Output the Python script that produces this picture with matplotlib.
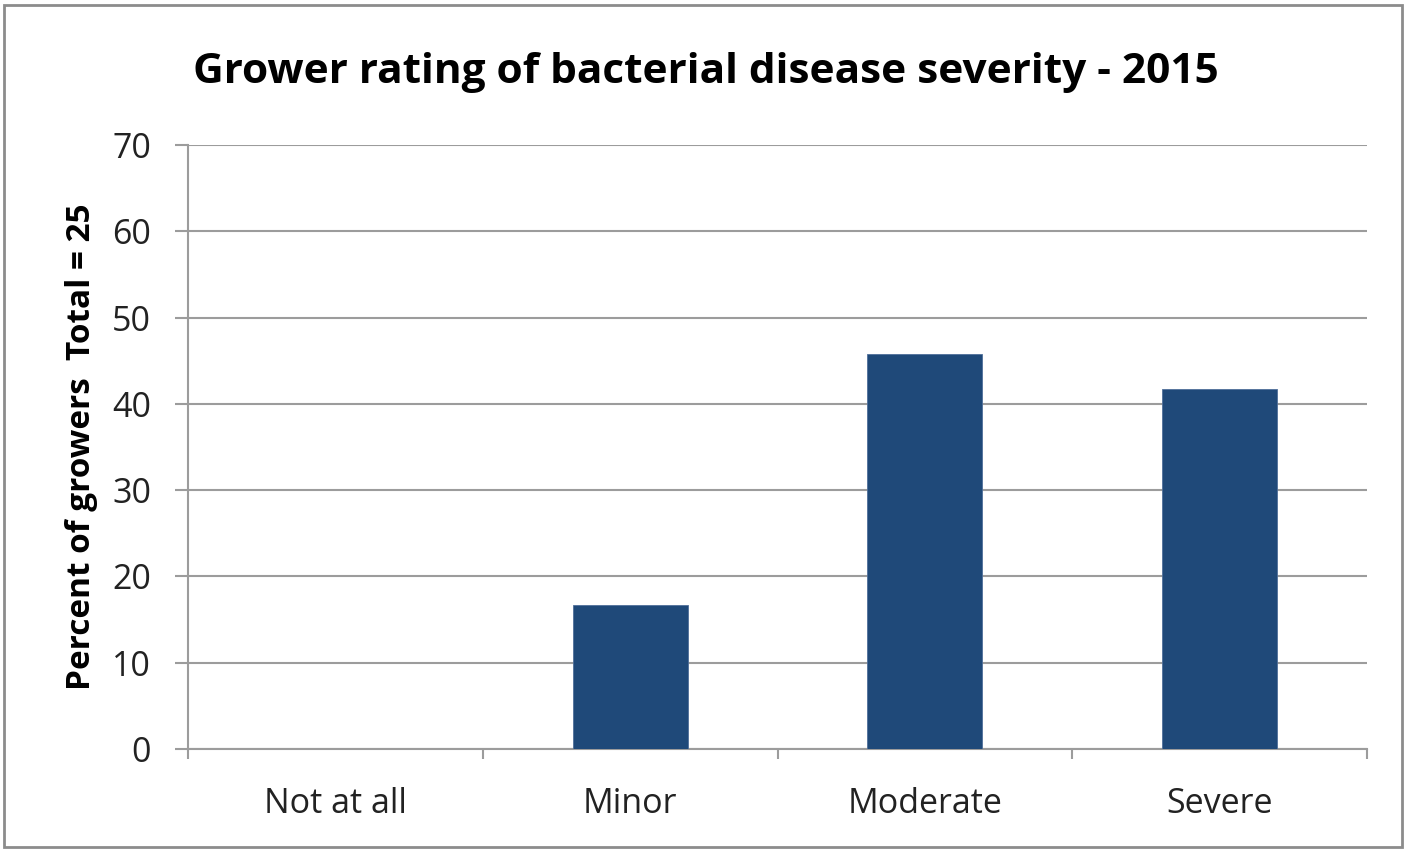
import matplotlib.pyplot as plt
from matplotlib.patches import Rectangle

# Data
categories = ['Not at all', 'Minor', 'Moderate', 'Severe']
percent = [0, 16.7, 45.8, 41.7]

plt.rcParams['font.family'] = ['Open Sans', 'DejaVu Sans']

fig = plt.figure(figsize=(14.06, 8.5), dpi=100)
ax = fig.add_axes([0.1337, 0.1188, 0.8386, 0.7106])

x = list(range(len(categories)))
ax.bar(x, percent, width=0.39, color='#1F4979', edgecolor='#4F6F9A', linewidth=0.6, zorder=3)

ax.set_xlim(-0.5, len(categories) - 0.5)
ax.set_ylim(0, 70)
ax.set_yticks(range(0, 71, 10))
ax.set_xticks(x)
ax.set_xticklabels(categories, fontsize=24.5, color='#222222')
ax.tick_params(axis='y', labelsize=24.5, colors='#222222', length=9.5, width=1.5, color='#9C9C9C', pad=17)
ax.tick_params(axis='x', length=0, pad=27)
# category boundary tick marks
ax.set_xticks([i - 0.5 for i in range(len(categories) + 1)], minor=True)
ax.tick_params(axis='x', which='minor', length=7, width=1.5, color='#9C9C9C')

ax.grid(axis='y', color='#9C9C9C', linewidth=1.5, zorder=0)
for s in ['top', 'right']:
    ax.spines[s].set_visible(False)
ax.spines['left'].set_color('#9C9C9C')
ax.spines['left'].set_linewidth(1.5)
ax.spines['bottom'].set_color('#9C9C9C')
ax.spines['bottom'].set_linewidth(1.5)

ax.set_ylabel('Percent of growers  Total = 25', fontsize=24, fontweight='bold', labelpad=10)
fig.text(0.502, 0.915, 'Grower rating of bacterial disease severity - 2015',
         ha='center', va='center', fontsize=30.5, fontweight='bold')

# outer chart border
fig.patches.append(Rectangle((0.003, 0.004), 0.994, 0.99, transform=fig.transFigure,
                             fill=False, edgecolor='#8C8C8C', linewidth=2))

fig.savefig('out.png', dpi=100)
